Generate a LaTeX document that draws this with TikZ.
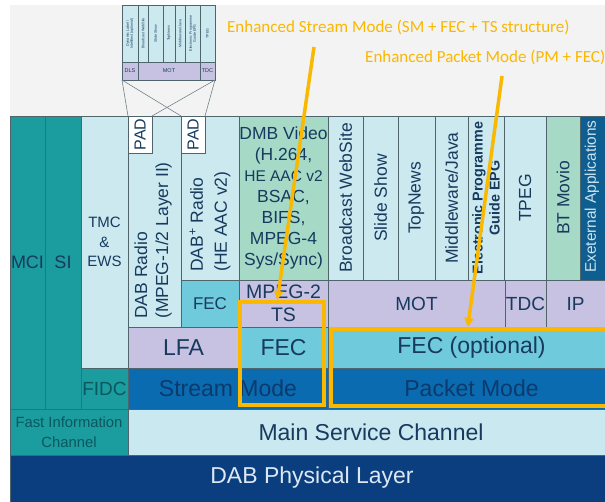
\documentclass[tikz,border=0pt]{standalone}
\usepackage{fontspec}
\setmainfont{Liberation Sans}
\newfontfamily\notefont{Carlito}
\usetikzlibrary{fit,arrows.meta}

\definecolor{greybg}{RGB}{243,243,243}
\definecolor{tealc}{RGB}{27,156,158}
\definecolor{tealtx}{RGB}{10,88,96}
\definecolor{lightc}{RGB}{203,233,239}
\definecolor{greenc}{RGB}{167,217,199}
\definecolor{extblue}{RGB}{14,94,145}
\definecolor{exttx}{RGB}{205,228,238}
\definecolor{cyanc}{RGB}{111,203,220}
\definecolor{lavc}{RGB}{199,194,226}
\definecolor{modec}{RGB}{10,107,176}
\definecolor{modetx}{RGB}{12,58,109}
\definecolor{mainc}{RGB}{201,232,240}
\definecolor{physc}{RGB}{11,62,126}
\definecolor{phystx}{RGB}{220,232,244}
\definecolor{navytx}{RGB}{23,58,94}
\definecolor{edgec}{RGB}{80,100,108}
\definecolor{orangec}{RGB}{250,184,0}

\begin{document}
\begin{tikzpicture}[x=1pt,y=-1pt,
  cell/.style={draw=edgec, line width=0.8pt, inner sep=0pt, outer sep=0pt},
  lbl/.style={inner sep=0pt, text=navytx, align=center},
  big/.style={lbl, font=\fontsize{23}{25}\selectfont},
  mid/.style={lbl, font=\fontsize{19}{23}\selectfont},
  colfont/.style={font=\fontsize{17.5}{21}\selectfont},
  vlbl/.style={lbl, rotate=90, colfont},
  tiny/.style={lbl, rotate=90, font=\fontsize{3.6}{4}\selectfont},
  minilbl/.style={lbl, font=\fontsize{5.5}{6}\selectfont},
  mini/.style={draw=edgec!80, line width=0.6pt},
  obox/.style={draw=orangec, line width=4.5pt, inner sep=0pt, outer sep=0pt},
  oarrow/.style={draw=orangec, line width=3.5pt, -{Triangle[length=9pt,width=9pt]}, shorten >=2pt},
  note/.style={text=orangec, inner sep=0pt, font=\notefont\fontsize{17}{20}\selectfont}
]
\useasboundingbox (0,0) rectangle (605,502);
\fill[white] (0,0) rectangle (605,502);
\fill[greybg] (10,5) rectangle (605,116);

% ---- left control channels ----
\node[cell, fill=tealc, fit={(10,116) (45,409)}] (mci) {};
\node[lbl, font=\fontsize{18}{20}\selectfont] (mcit) at (mci.center) {MCI};
\node[cell, fill=tealc, fit={(45,116) (81,409)}] (si) {};
\node[lbl, font=\fontsize{18}{20}\selectfont] (sit) at (si.center) {SI};
\node[cell, fill=lightc, fit={(81,116) (128,368)}] (tmc) {};
\node[lbl, font=\fontsize{15}{19.5}\selectfont] (tmct) at (tmc.center) {TMC\\\&\\EWS};
\node[cell, fill=tealc, fit={(81,368) (128,409)}] (fidc) {};
\node[lbl, text=tealtx, font=\fontsize{19}{21}\selectfont] (fidct) at (fidc.center) {FIDC};
\node[cell, fill=tealc, fit={(10,409) (128,455)}] (fic) {};
\node[lbl, text=tealtx, font=\fontsize{14.8}{20}\selectfont] (fict) at (fic.center) {Fast Information\\Channel};

% ---- audio services ----
\node[cell, fill=lightc, fit={(128,116) (181,327)}] (dabr) {};
\node[vlbl, anchor=west, align=left] (dabrt) at (153,319) {DAB Radio\\(MPEG-1/2 Layer II)};
\node[cell, fill=white, fit={(128,116) (152,153)}] (pad1) {};
\node[vlbl, font=\fontsize{16}{18}\selectfont] (pad1t) at (pad1.center) {PAD};

\node[cell, fill=lightc, fit={(181,116) (239,280)}] (dabp) {};
\node[vlbl, anchor=west, align=left, font=\fontsize{17.5}{24}\selectfont] (dabpt) at (210,272) {DAB\textsuperscript{+} Radio\\(HE AAC v2)};
\node[cell, fill=white, fit={(181,116) (205,153)}] (pad2) {};
\node[vlbl, font=\fontsize{16}{18}\selectfont] (pad2t) at (pad2.center) {PAD};
\node[cell, fill=cyanc, fit={(181,280) (239,327)}] (fecp) {};
\node[lbl, font=\fontsize{17}{20}\selectfont] (fecpt) at (fecp.center) {FEC};

% ---- video ----
\node[cell, fill=greenc, fit={(239,116) (328,280)}] (dmb) {};
\node[lbl, colfont] (dmbt) at (dmb.center) {DMB Video\\(H.264,\\{\fontsize{15.5}{21}\selectfont HE AAC v2}\\BSAC,\\BIFS,\\MPEG-4\\Sys/Sync)};
\node[cell, fill=lavc, fit={(239,280) (328,327)}] (ts) {};
\node[lbl, font=\fontsize{19.5}{23}\selectfont] (tst) at (ts.center) {MPEG-2\\TS};

% ---- data services ----
\node[cell, fill=lightc, fit={(328,116) (363,280)}] (bws) {};
\node[vlbl] (bwst) at (bws.center) {Broadcast WebSite};
\node[cell, fill=lightc, fit={(363,116) (398,280)}] (sls) {};
\node[vlbl] (slst) at (sls.center) {Slide Show};
\node[cell, fill=lightc, fit={(398,116) (435,280)}] (tpn) {};
\node[vlbl] (tpnt) at (tpn.center) {TopNews};
\node[cell, fill=lightc, fit={(435,116) (468,280)}] (mwj) {};
\node[vlbl] (mwjt) at (mwj.center) {Middleware/Java};
\node[cell, fill=lightc, fit={(468,116) (504,280)}] (epg) {};
\node[vlbl, font=\bfseries\fontsize{14.3}{17}\selectfont] (epgt) at (epg.center) {Electronic Programme\\Guide EPG};
\node[cell, fill=lightc, fit={(504,116) (546,280)}] (tpeg) {};
\node[vlbl] (tpegt) at (tpeg.center) {TPEG};
\node[cell, fill=greenc, fit={(546,116) (580,280)}] (btm) {};
\node[vlbl] (btmt) at (btm.center) {BT Movio};
\node[cell, fill=extblue, fit={(580,116) (612,280)}] (ext) {};
\node[vlbl, anchor=west, text=exttx, font=\fontsize{15.4}{18}\selectfont] (extt) at (592,273) {Exeternal Applications};

\node[cell, fill=lavc, fit={(328,280) (505,327)}] (mot) {};
\node[mid] (mott) at (mot.center) {MOT};
\node[cell, fill=lavc, fit={(505,280) (546,327)}] (tdc) {};
\node[mid] (tdct) at (tdc.center) {TDC};
\node[cell, fill=lavc, fit={(546,280) (612,327)}] (ip) {};
\node[mid] (ipt) at (575.5,303.5) {IP};

% ---- transport layers ----
\node[cell, fill=lavc, fit={(128,327) (239,368)}] (lfa) {};
\node[big] (lfat) at (lfa.center) {LFA};
\node[cell, fill=cyanc, fit={(239,327) (328,368)}] (fecs) {};
\node[big] (fecst) at (fecs.center) {FEC};
\node[cell, fill=cyanc, fit={(328,327) (612,368)}] (feco) {};
\node[big] (fecot) at (471.5,347.5) {FEC (optional)};
\node[cell, fill=modec, fit={(128,368) (328,409)}] (strm) {};
\node[big, text=modetx] (strmt) at (strm.center) {Stream Mode};
\node[cell, fill=modec, fit={(328,368) (612,409)}] (pkt) {};
\node[big, text=modetx] (pktt) at (471.5,388.5) {Packet Mode};
\node[cell, fill=mainc, fit={(128,409) (612,455)}] (msc) {};
\node[big] (msct) at (371,432) {Main Service Channel};
\node[cell, fill=physc, fit={(10,455) (612,504)}] (phy) {};
\node[big, text=phystx] (phyt) at (312,478) {DAB Physical Layer};

% ---- PAD content (small MOT stack) ----
\node[cell, fill=lightc, line width=0.5pt, fit={(122,5) (215,80)}] (motmini) {};
\node[cell, fill=lightc, line width=0.4pt, fit={(122,5) (138,62)}] (m1) {};
\node[tiny] (m1t) at (m1.center) {Dynamic Label /\\Intellitext (optional)};
\node[cell, fill=lightc, line width=0.4pt, fit={(138,5) (148,62)}] (m2) {};
\node[tiny] (m2t) at (m2.center) {Broadcast WebSite};
\node[cell, fill=lightc, line width=0.4pt, fit={(148,5) (163,62)}] (m3) {};
\node[tiny] (m3t) at (m3.center) {Slide Show};
\node[cell, fill=lightc, line width=0.4pt, fit={(163,5) (175,62)}] (m4) {};
\node[tiny] (m4t) at (m4.center) {TopNews};
\node[cell, fill=lightc, line width=0.4pt, fit={(175,5) (185,62)}] (m5) {};
\node[tiny] (m5t) at (m5.center) {Middleware/Java};
\node[cell, fill=lightc, line width=0.4pt, fit={(185,5) (200,62)}] (m6) {};
\node[tiny] (m6t) at (m6.center) {Electronic Programme\\Guide EPG};
\node[cell, fill=lightc, line width=0.4pt, fit={(200,5) (215,62)}] (m7) {};
\node[tiny] (m7t) at (m7.center) {TPEG};
\node[cell, fill=lavc, line width=0.4pt, fit={(122,62) (138,80)}] (mdls) {};
\node[minilbl] (mdlst) at (mdls.center) {DLS};
\node[cell, fill=lavc, line width=0.4pt, fit={(138,62) (200,80)}] (mmot) {};
\node[minilbl] (mmott) at (mmot.center) {MOT};
\node[cell, fill=lavc, line width=0.4pt, fit={(200,62) (215,80)}] (mtdc) {};
\node[minilbl] (mtdct) at (mtdc.center) {TDC};

\draw[mini] (motmini.south west) -- (pad1.north west);
\draw[mini] (motmini.south east) -- (pad2.north east);
\draw[mini] (motmini.south west) -- (pad2.north west);
\draw[mini] (motmini.south east) -- (pad1.north east);

% ---- enhanced modes ----
\node[obox, fit={(240,302) (324,405)}] (esm) {};
\node[obox, fit={(331,329) (620,406)}] (epm) {};
\node[note, anchor=west] (esmtxt) at (227,27) {Enhanced Stream Mode (SM + FEC + TS structure)};
\node[note, anchor=west] (epmtxt) at (365,57) {Enhanced Packet Mode (PM + FEC)};
\coordinate (esmfoot) at (314,47);
\coordinate (epmfoot) at (502,76);
\draw[oarrow] (esmfoot) -- ([xshift=-5pt]esm.north);
\draw[oarrow] (epmfoot) -- ([xshift=-8pt]epm.north);
\end{tikzpicture}
\end{document}
